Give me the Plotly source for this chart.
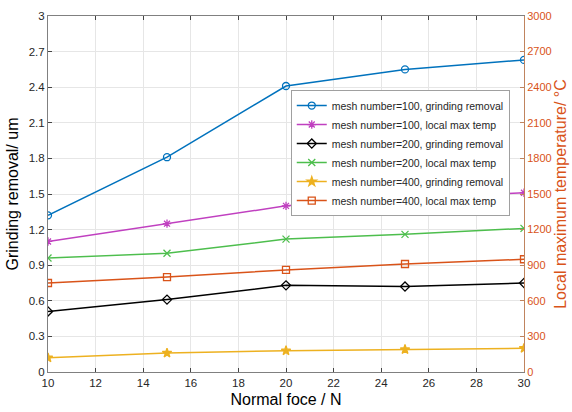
import plotly.graph_objects as go

force = [10, 15, 20, 25, 30]
g100 = [1.32, 1.81, 2.41, 2.55, 2.63]
t100 = [1100, 1250, 1400, 1470, 1510]
g200 = [0.51, 0.61, 0.73, 0.72, 0.75]
t200 = [960, 1000, 1120, 1160, 1210]
g400 = [0.12, 0.16, 0.18, 0.19, 0.20]
t400 = [750, 800, 860, 910, 950]

left_ticks = [0, 0.3, 0.6, 0.9, 1.2, 1.5, 1.8, 2.1, 2.4, 2.7, 3]
right_ticks = [0, 300, 600, 900, 1200, 1500, 1800, 2100, 2400, 2700, 3000]
x_ticks = [10, 12, 14, 16, 18, 20, 22, 24, 26, 28, 30]

FONT = "Liberation Sans, Arial, sans-serif"
ORANGE = "#D95319"

series = [
    ("mesh number=100, grinding removal", g100, "y", "#0072BD", "circle-open"),
    ("mesh number=100, local max temp", t100, "y2", "#C040C0", "asterisk-open"),
    ("mesh number=200, grinding removal", g200, "y", "#000000", "diamond-open"),
    ("mesh number=200, local max temp", t200, "y2", "#4DBE4D", "x-thin-open"),
    ("mesh number=400, grinding removal", g400, "y", "#EDB120", "star"),
    ("mesh number=400, local max temp", t400, "y2", ORANGE, "square-open"),
]

fig = go.Figure()
for name, vals, ax, col, sym in series:
    fig.add_trace(go.Scatter(
        x=force, y=vals, yaxis=ax, name=name, mode="lines+markers",
        line=dict(color=col, width=1.5),
        marker=dict(symbol=sym, size=7, color=col, line=dict(color=col, width=1.3)),
    ))

fig.update_layout(
    width=572, height=412,
    margin=dict(l=48, r=48, t=16, b=40, autoexpand=False),
    paper_bgcolor="white", plot_bgcolor="white",
    font=dict(family=FONT, size=11, color="#262626"),
    showlegend=True,
    legend=dict(
        x=0.51, y=0.792, xanchor="left", yanchor="top",
        bgcolor="white", bordercolor="#A0A0A0", borderwidth=1,
        font=dict(size=10.5, color="#262626"), itemwidth=30,
        tracegroupgap=0,
    ),
    xaxis=dict(
        range=[10, 30], tickvals=x_ticks, ticks="inside", ticklen=4,
        showline=True, linecolor="#808080", mirror="ticks", automargin=False,
        showgrid=True, gridcolor="#E6E6E6", zeroline=False,
        title=dict(text="Normal foce / N", font=dict(size=16, color="#000"), standoff=6),
        tickfont=dict(size=11.5, color="#262626"),
    ),
    yaxis=dict(
        range=[0, 3], tickvals=left_ticks, ticktext=[f"{v:g}" for v in left_ticks],
        ticks="inside", ticklen=4, showline=True, linecolor="#808080", automargin=False,
        showgrid=True, gridcolor="#E6E6E6", zeroline=False,
        title=dict(text="Grinding removal/ um", font=dict(size=16, color="#000"), standoff=6),
        tickfont=dict(size=11.5, color="#262626"),
    ),
    yaxis2=dict(
        range=[0, 3000], tickvals=right_ticks, overlaying="y", side="right",
        ticks="inside", ticklen=4, tickcolor="#C0845E", showline=True, linecolor="#C0845E",
        showgrid=False, zeroline=False, automargin=False,
        title=dict(text="Local maximum temperature/ °C", font=dict(size=16, color=ORANGE), standoff=2),
        tickfont=dict(size=11, color=ORANGE),
    ),
)

fig.write_html("out.html")
